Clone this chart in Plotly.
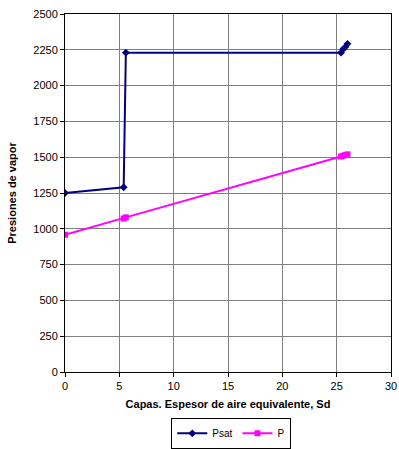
import plotly.graph_objects as go

sd = [0, 5.4, 5.6, 25.4, 25.6, 25.8, 26.0]
psat = [1250, 1290, 2230, 2230, 2255, 2270, 2292]
p = [958, 1072, 1080, 1505, 1510, 1515, 1520]

fig = go.Figure()
fig.add_trace(go.Scatter(x=sd, y=psat, mode="lines+markers", name="Psat",
                         line=dict(color="#000080", width=2),
                         marker=dict(symbol="diamond", size=6, color="#000080")))
fig.add_trace(go.Scatter(x=sd, y=p, mode="lines+markers", name="P",
                         line=dict(color="#FF00FF", width=2),
                         marker=dict(symbol="square", size=6, color="#FF00FF")))

axis_common = dict(showline=True, linecolor="black", linewidth=1, mirror=True,
                   showgrid=True, gridcolor="#808080", gridwidth=1,
                   ticks="outside", ticklen=4, tickcolor="black", zeroline=False,
                   tickfont=dict(family="Liberation Sans, Arial", size=11, color="black"))

fig.update_layout(
    width=399, height=449,
    margin=dict(l=65, r=8, t=14, b=77, autoexpand=False),
    paper_bgcolor="white", plot_bgcolor="white",
    font=dict(family="Liberation Sans, Arial", size=11, color="black"),
    xaxis=dict(range=[0, 30], dtick=5, automargin=False,
               title=dict(text="<b>Capas. Espesor de aire equivalente, Sd</b>", font=dict(size=11), standoff=9),
               **axis_common),
    yaxis=dict(range=[0, 2500], dtick=250, automargin=False,
               title=dict(text="<b>Presiones de vapor</b>", font=dict(size=11), standoff=14),
               **axis_common),
    legend=dict(orientation="h", x=0.51, xanchor="center", y=-0.128, yanchor="top",
                bordercolor="black", borderwidth=1, font=dict(size=10),
                itemwidth=30, tracegroupgap=0),
    showlegend=True,
)
fig.write_html("out.html", config={"displayModeBar": False},
               post_script="document.body.style.margin='0px';")
